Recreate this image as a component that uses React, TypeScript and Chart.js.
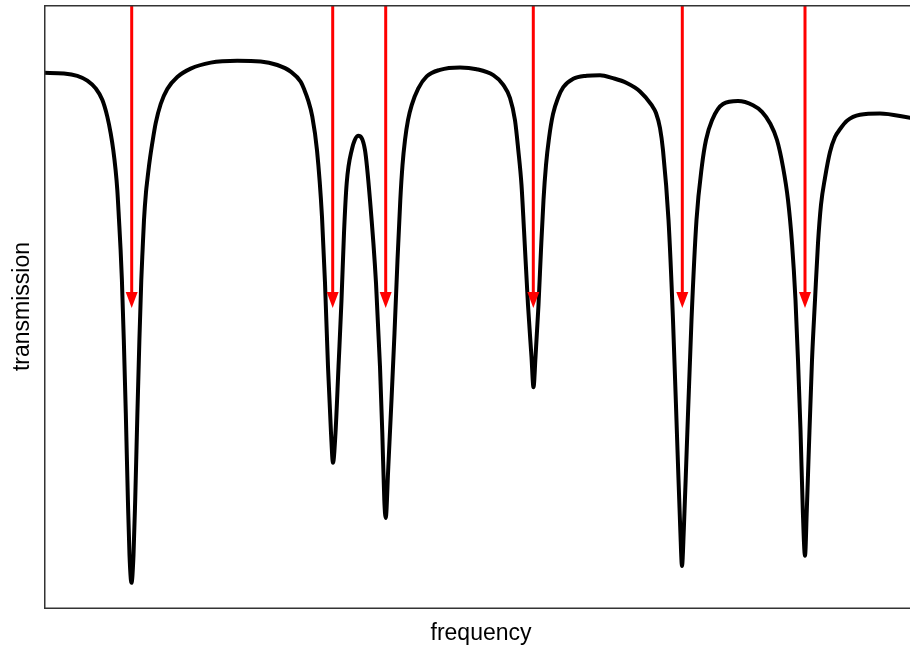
import React, { useEffect, useRef } from "react";
import { Chart, registerables } from "chart.js";

Chart.register(...registerables);

// Transmission spectrum (arbitrary units)
const frequency = [
  0, 2.0, 3.33, 4.33, 5.17, 5.83, 6.33, 6.67, 6.93, 7.16,
  7.33, 7.5, 7.66, 7.79, 7.98, 8.18, 8.39, 8.55, 8.75, 8.95,
  9.12, 9.34, 9.54, 9.73, 9.86, 10.0, 10.2, 10.33, 10.58, 10.85,
  11.17, 11.67, 12.33, 13.33, 14.67, 16.67, 19.33, 21.67, 23.33, 24.67,
  25.67, 26.05, 26.4, 26.83, 27.3, 27.8, 28.1, 28.4, 28.7, 28.9,
  29.15, 29.45, 29.75, 30.0, 30.27, 30.77, 31.43, 32.1, 32.6, 33.2,
  33.6, 33.83, 34.03, 34.17, 34.43, 34.75, 35.05, 35.35, 35.63, 35.85,
  36.1, 36.4, 36.77, 37.43, 38.27, 39.6, 41.6, 43.27, 44.93, 45.93,
  46.6, 47.1, 47.43, 47.75, 48.0, 48.4, 48.75, 48.95, 49.15, 49.45,
  49.7, 49.95, 50.2, 50.5, 50.9, 51.4, 51.93, 52.93, 54.27, 55.6,
  56.9, 58.27, 59.6, 60.77, 61.2, 61.6, 61.9, 62.45, 62.9, 63.35,
  63.63, 63.8, 63.98, 64.27, 64.75, 65.25, 65.8, 66.2, 66.8, 67.9,
  69.4, 70.9, 71.8, 72.6, 73.3, 73.9, 74.4, 74.8, 75.15, 75.4,
  75.65, 75.88, 76.1, 76.28, 76.45, 76.8, 77.1, 77.4, 77.7, 78.1,
  78.6, 79.1, 79.6, 80.3, 81.6, 83.6, 86.6,
];

const transmission = [
  0.892, 0.891, 0.887, 0.879, 0.866, 0.847, 0.819, 0.791, 0.763, 0.730,
  0.697, 0.647, 0.597, 0.547, 0.447, 0.325, 0.180, 0.088, 0.042, 0.088,
  0.180, 0.325, 0.447, 0.547, 0.597, 0.647, 0.693, 0.713, 0.747, 0.777,
  0.808, 0.840, 0.865, 0.885, 0.899, 0.909, 0.912, 0.911, 0.905, 0.894,
  0.877, 0.863, 0.847, 0.819, 0.763, 0.652, 0.542, 0.402, 0.292, 0.242,
  0.292, 0.402, 0.513, 0.625, 0.708, 0.763, 0.787, 0.763, 0.680, 0.542,
  0.402, 0.292, 0.180, 0.150, 0.235, 0.347, 0.458, 0.580, 0.680, 0.738,
  0.780, 0.813, 0.838, 0.866, 0.886, 0.897, 0.901, 0.898, 0.888, 0.872,
  0.850, 0.813, 0.763, 0.705, 0.630, 0.505, 0.418, 0.368, 0.418, 0.505,
  0.597, 0.680, 0.738, 0.783, 0.823, 0.850, 0.868, 0.882, 0.887, 0.888,
  0.883, 0.875, 0.861, 0.838, 0.825, 0.800, 0.763, 0.647, 0.480, 0.263,
  0.130, 0.070, 0.130, 0.263, 0.480, 0.647, 0.738, 0.780, 0.813, 0.840,
  0.845, 0.838, 0.827, 0.808, 0.780, 0.735, 0.680, 0.608, 0.513, 0.413,
  0.297, 0.163, 0.087, 0.163, 0.247, 0.413, 0.513, 0.608, 0.672, 0.717,
  0.760, 0.785, 0.798, 0.812, 0.822, 0.824, 0.817,
];

// Resonance markers (red arrows)
const resonanceFrequencies = [8.77, 28.87, 34.17, 48.93, 63.83, 76.1];
const arrowTipLevel = 0.5;

const xAxisMin = 0;
const xAxisMax = 86.6;
const yAxisMin = 0;
const yAxisMax = 1.005;

const xLabel = "frequency";
const yLabel = "transmission";

const FONT = '23px "Liberation Sans", Arial, Helvetica, sans-serif';

const decorPlugin = {
  id: "decor",
  afterDatasetsDraw(chart: any) {
    const { ctx, chartArea, scales } = chart;
    const xs = scales.x;
    const ys = scales.y;
    // red arrows
    ctx.save();
    ctx.strokeStyle = "#ff0000";
    ctx.fillStyle = "#ff0000";
    ctx.lineWidth = 3;
    const headLen = 16;
    const headHalf = 6;
    for (const f of resonanceFrequencies) {
      const px = xs.getPixelForValue(f);
      const tip = ys.getPixelForValue(arrowTipLevel);
      const top = ys.getPixelForValue(yAxisMax);
      ctx.beginPath();
      ctx.moveTo(px, top);
      ctx.lineTo(px, tip - headLen + 2);
      ctx.stroke();
      ctx.beginPath();
      ctx.moveTo(px, tip);
      ctx.lineTo(px - headHalf, tip - headLen);
      ctx.lineTo(px + headHalf, tip - headLen);
      ctx.closePath();
      ctx.fill();
    }
    ctx.restore();

    // frame (left, top, bottom)
    ctx.save();
    ctx.strokeStyle = "#333333";
    ctx.lineWidth = 1.5;
    ctx.beginPath();
    ctx.moveTo(chart.width + 2, chartArea.top + 0.75);
    ctx.lineTo(chartArea.left + 0.75, chartArea.top + 0.75);
    ctx.lineTo(chartArea.left + 0.75, chartArea.bottom + 0.25);
    ctx.lineTo(chart.width + 2, chartArea.bottom + 0.25);
    ctx.stroke();
    ctx.restore();

    // axis titles
    ctx.save();
    ctx.fillStyle = "#000000";
    ctx.font = FONT;
    ctx.textAlign = "center";
    ctx.textBaseline = "alphabetic";
    ctx.fillText(xLabel, (chartArea.left + chartArea.right) / 2 + 4, chartArea.bottom + 32);
    ctx.translate(29, (chartArea.top + chartArea.bottom) / 2);
    ctx.rotate(-Math.PI / 2);
    ctx.fillText(yLabel, 0, 0);
    ctx.restore();
  },
};

export default function App() {
  const canvasRef = useRef<HTMLCanvasElement | null>(null);

  useEffect(() => {
    if (!canvasRef.current) return;
    const points = frequency.map((f, i) => ({ x: f, y: transmission[i] }));
    const chart = new Chart(canvasRef.current, {
      type: "line",
      data: {
        datasets: [
          {
            data: points,
            borderColor: "#000000",
            borderWidth: 4,
            pointRadius: 0,
            fill: false,
            cubicInterpolationMode: "monotone",
            borderJoinStyle: "round",
            borderCapStyle: "round",
          } as any,
        ],
      },
      options: {
        responsive: false,
        animation: false,
        events: [],
        layout: {
          autoPadding: false,
          padding: { left: 44, top: 5, right: 0, bottom: 42 },
        },
        plugins: {
          legend: { display: false },
          tooltip: { enabled: false },
          title: { display: false },
        },
        scales: {
          x: { type: "linear", min: xAxisMin, max: xAxisMax, display: false },
          y: { type: "linear", min: yAxisMin, max: yAxisMax, display: false },
        },
      } as any,
      plugins: [decorPlugin],
    });
    return () => chart.destroy();
  }, []);

  return (
    <div style={{ position: "absolute", left: 0, top: 0, width: 910, height: 650, background: "#ffffff" }}>
      <canvas ref={canvasRef} width={910} height={650} style={{ display: "block", width: 910, height: 650 }} />
    </div>
  );
}
